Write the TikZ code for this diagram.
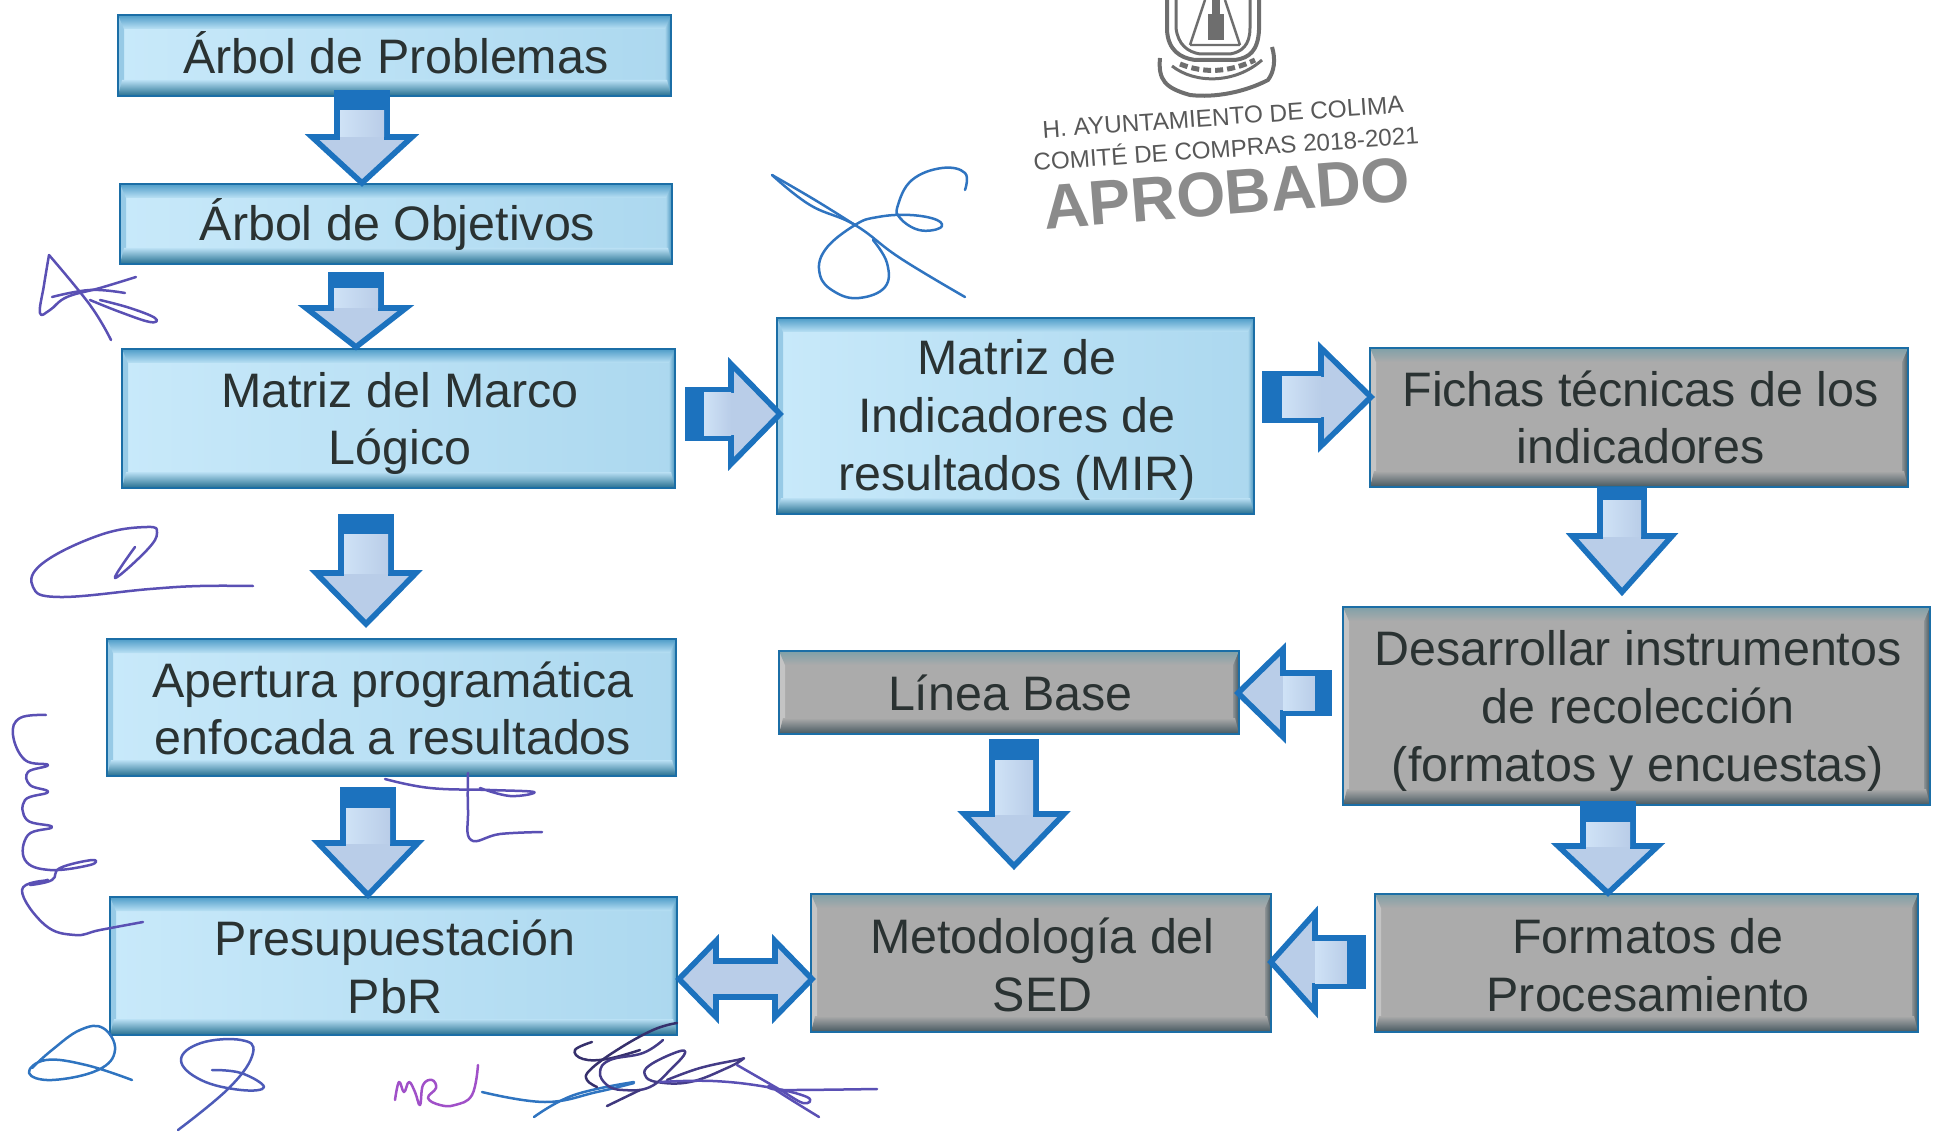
\documentclass[tikz,border=0pt]{standalone}
\usepackage{fontspec}
\setmainfont{Liberation Sans}
\usetikzlibrary{calc}
\definecolor{txt}{HTML}{2A3232}
\definecolor{edge}{HTML}{1B6EA6}
\definecolor{arrblue}{HTML}{1C72BE}
\definecolor{arrfill}{HTML}{B9CDE8}
\definecolor{arrlite}{HTML}{CFE2F6}
\definecolor{sigp}{HTML}{5A50B4}
\definecolor{sigb}{HTML}{2F74C0}
\definecolor{sigm}{HTML}{A050C8}
\definecolor{stampc}{HTML}{6E6E6E}
\definecolor{bluel}{HTML}{C8E9FA}
\definecolor{bluer}{HTML}{ACD8EF}
\definecolor{bluetop}{HTML}{4E9CC8}
\definecolor{bluehi}{HTML}{E4F5FD}
\definecolor{bluebot}{HTML}{256F90}
\definecolor{greyb}{HTML}{ABABAB}
\definecolor{greytop}{HTML}{7FA0A8}
\definecolor{greyhi}{HTML}{E2E2E2}
\definecolor{greyd}{HTML}{465860}
% top edge, highlight, body, bottom, left, right
\newcommand\bevels[6]{%
  \path (path picture bounding box.north west) coordinate (NW)
        (path picture bounding box.north east) coordinate (NE)
        (path picture bounding box.south west) coordinate (SW)
        (path picture bounding box.south east) coordinate (SE);
  \shade[left color=#5,right color=#3!0!#5] (NW) rectangle ($(SW)+(3pt,0)$);
  \shade[left color=#6!30!#3,right color=#6] ($(NE)+(-3pt,0)$) rectangle (SE);
  \shade[top color=#1,middle color=#2,bottom color=#3] (NW) -- (NE) -- ($(NE)+(-3pt,-7pt)$) -- ($(NW)+(3pt,-7pt)$) -- cycle;
  \shade[top color=#3,bottom color=#4] ($(SW)+(2pt,8pt)$) -- ($(SE)+(-2pt,8pt)$) -- (SE) -- (SW) -- cycle;
}
\tikzset{
  x=.5pt,y=.5pt,
  boxbase/.style={draw=edge,line width=1.3pt,inner sep=0pt},
  bluebox/.style={boxbase,left color=bluel,right color=bluer,
    path picture={\bevels{bluetop}{bluehi}{bluel!50!bluer}{bluebot}{bluel!60!bluetop}{bluetop!80!bluebot}}},
  greybox/.style={boxbase,fill=greyb,
    path picture={\bevels{greytop}{greyhi}{greyb}{greyd}{greyb!70!white}{greyd}}},
  boxtext/.style={inner sep=0pt,align=center,text=txt,font=\fontsize{24.2}{28.8}\selectfont},
  scrib/.style={line width=1.25pt,line cap=round,line join=round,smooth,tension=.7},
}
% [text shift], name, style, x1,y1,x2,y2, text
\newcommand\pbox[8][0]{%
  \pgfmathsetmacro\cx{(#4+#6)/2}\pgfmathsetmacro\cy{-(#5+#7)/2}%
  \pgfmathsetmacro\ww{(#6-#4)*.5}\pgfmathsetmacro\hh{(#7-#5)*.5}%
  \pgfmathsetmacro\ty{\cy-(#1)}\pgfmathsetmacro\tx{\cx+1.5}%
  \node[#3,minimum width=\ww pt,minimum height=\hh pt] (#2) at (\cx,\cy) {};
  \node[boxtext] (#2-text) at (\tx,\ty) {#8};}
% tail coord, tip coord, length, head length, shaft half, head half, dark length
\newcommand\blockarrow[7]{%
  \pgfmathanglebetweenpoints{\pgfpointanchor{#1}{center}}{\pgfpointanchor{#2}{center}}%
  \let\arrang\pgfmathresult
  \begin{scope}[shift={(#1)},rotate=\arrang]
    \pgfmathsetmacro\nk{#3-#4}
    \path[draw=arrblue,fill=arrfill,line width=2.8pt,miter limit=8]
      (2,-#5) -- (\nk,-#5) -- (\nk,-#6) -- (#3-1,0) -- (\nk,#6) -- (\nk,#5) -- (2,#5) -- cycle;
    \shade[left color=arrlite,right color=arrfill] (#7,-#5+3) rectangle (\nk,#5-3);
    \fill[arrblue] (2,-#5) rectangle (#7,#5);
  \end{scope}}
% left tip, length, head length, shaft half, head half
\newcommand\dblarrow[5]{%
  \begin{scope}[shift={(#1)}]
    \pgfmathsetmacro\nk{#2-#3}
    \path[draw=arrblue,fill=arrfill,line width=2.8pt,miter limit=8]
      (3,0) -- (#3,#5) -- (#3,#4) -- (\nk,#4) -- (\nk,#5) -- (#2-3,0) -- (\nk,-#5) -- (\nk,-#4) -- (#3,-#4) -- (#3,-#5) -- cycle;
  \end{scope}}
\begin{document}
\begin{tikzpicture}
\useasboundingbox (0,0) rectangle (1934,-1134);
% boxes
\pbox[-3]{prob}{bluebox}{118}{15}{671}{96}{Árbol de Problemas}
\pbox[1]{obj}{bluebox}{120}{184}{672}{264}{Árbol de Objetivos}
\pbox[5]{marco}{bluebox}{122}{349}{675}{488}{Matriz del Marco\\Lógico}
\pbox[4]{mir}{bluebox}{777}{318}{1254}{514}{Matriz de\\Indicadores de\\resultados (MIR)}
\pbox{fichas}{greybox}{1370}{348}{1908}{487}{Fichas técnicas de los\\indicadores}
\pbox[5]{desa}{greybox}{1343}{607}{1930}{805}{Desarrollar instrumentos\\de recolección\\(formatos y encuestas)}
\pbox{linea}{greybox}{779}{651}{1239}{734}{Línea Base}
\pbox[1]{aper}{bluebox}{107}{639}{676}{776}{Apertura programática\\enfocada a resultados}
\pbox[1]{pres}{bluebox}{110}{897}{677}{1035}{Presupuestación\\PbR}
\pbox[2]{meto}{greybox}{811}{894}{1271}{1032}{Metodología del\\SED}
\pbox[2]{form}{greybox}{1375}{894}{1918}{1032}{Formatos de\\Procesamiento}
% arrow ends
\coordinate (a1t) at (362,-91);   \coordinate (a1h) at (362,-184);
\coordinate (a2t) at (356,-273);  \coordinate (a2h) at (356,-348);
\coordinate (a3t) at (366,-515);  \coordinate (a3h) at (366,-625);
\coordinate (a4t) at (368,-788);  \coordinate (a4h) at (368,-896);
\coordinate (a5t) at (686,-414);  \coordinate (a5h) at (781,-414);
\coordinate (a6t) at (1263,-397); \coordinate (a6h) at (1372,-397);
\coordinate (a7t) at (1622,-488); \coordinate (a7h) at (1622,-593);
\coordinate (a8t) at (1331,-693); \coordinate (a8h) at (1237,-693);
\coordinate (a9t) at (1014,-740); \coordinate (a9h) at (1014,-867);
\coordinate (a10t) at (1608,-802);\coordinate (a10h) at (1608,-894);
\coordinate (a11t) at (1365,-962);\coordinate (a11h) at (1270,-962);
\coordinate (a12t) at (676,-979);
\blockarrow{a1t}{a1h}{93}{47}{25}{50}{19}
\blockarrow{a2t}{a2h}{75}{40}{25}{50}{15}
\blockarrow{a3t}{a3h}{110}{52}{25}{50}{19}
\blockarrow{a4t}{a4h}{108}{53}{25}{50}{20}
\blockarrow{a5t}{a5h}{95}{50}{24}{50}{18}
\blockarrow{a6t}{a6h}{109}{51}{23}{49}{19}
\blockarrow{a7t}{a7h}{105}{57}{22}{50}{12}
\blockarrow{a8t}{a8h}{94}{46}{20}{44}{16}
\blockarrow{a9t}{a9h}{127}{53}{22}{50}{20}
\blockarrow{a10t}{a10h}{92}{48}{25}{50}{20}
\blockarrow{a11t}{a11h}{95}{45}{24}{49}{18}
\dblarrow{a12t}{139}{40}{18}{38}
% signatures and stamp (y measured downwards)
\begin{scope}[yscale=-1]
\draw[sigb,scrib] plot coordinates {(772,175)(810,205)(855,225)(900,258)(965,297)};
\draw[sigb,scrib] plot coordinates {(772,175)(815,200)(855,225)};
\draw[sigb,scrib] plot coordinates {(965,190)(965,173)(942,168)(912,180)(898,205)(900,218)(919,230)(940,228)(937,220)(910,215)(878,217)(855,225)(825,250)(820,275)(835,292)(859,298)(885,287)(887,263)(873,240)};
\draw[sigp,scrib] plot coordinates {(111,340)(90,305)(49,255)};
\draw[sigp,scrib] plot coordinates {(49,255)(44,285)(40,313)(50,310)(67,297)(100,288)(136,277)};
\draw[sigp,scrib] plot coordinates {(52,297)(90,290)(125,293)};
\draw[sigp,scrib] plot coordinates {(90,300)(120,312)(150,322)(155,318)(130,308)(100,300)};
\draw[sigp,scrib] plot coordinates {(253,586)(200,586)(150,589)(60,597)(33,587)(43,563)(100,535)(147,527)(157,533)(147,550)(115,578)(135,547)};
\draw[sigp,scrib] plot coordinates {(46,715)(20,718)(13,735)(25,760)(48,765)(28,772)(30,785)(48,792)(25,800)(27,820)(52,827)(28,835)(25,860)(50,870)(90,865)(92,860)(60,868)(52,880)(30,885)(48,880)(22,890)(45,925)(75,935)(100,930)(143,922)};
\draw[sigp,scrib] plot coordinates {(385,779)(430,788)(490,790)(534,792)(510,796)(480,788)};
\draw[sigp,scrib] plot coordinates {(468,773)(468,810)(471,840)(500,834)(542,832)};
\draw[sigb,scrib] plot coordinates {(132,1080)(86,1065)(46,1060)(29,1073)(52,1080)(98,1070)(115,1050)(103,1028)(80,1030)(52,1050)(32,1068)};
\draw[sigp!70!sigb,scrib] plot coordinates {(178,1130)(230,1087)(253,1053)(241,1040)(201,1043)(181,1060)(201,1080)(241,1090)(264,1087)(241,1073)(212,1070)};
\draw[sigm,scrib] plot coordinates {(395,1100)(399,1082)(404,1092)(409,1082)(415,1092)(420,1105)(423,1085)(432,1080)(436,1088)(428,1098)(440,1105)(455,1105)(472,1095)(478,1065)};
\draw[sigb,scrib] plot coordinates {(482,1092)(545,1102)(597,1092)(634,1083)};
\draw[sigb,scrib] plot coordinates {(534,1117)(574,1095)(634,1082)};
\draw[sigp!60!black,scrib] plot coordinates {(677,1023)(653,1030)(617,1050)(590,1070)(587,1080)(597,1087)};
\draw[sigp!60!black,scrib] plot coordinates {(592,1042)(575,1050)(583,1059)(607,1059)(640,1050)};
\draw[sigp!75!black,scrib] plot coordinates {(663,1040)(643,1053)(610,1060)(600,1072)(607,1085)(623,1090)(650,1087)(673,1067)(685,1053)(677,1052)(650,1065)(645,1075)(657,1082)(690,1082)(727,1068)(743,1059)(737,1060)(700,1068)(667,1080)};
\draw[sigp,scrib] plot coordinates {(660,1082)(713,1081)(767,1087)(807,1097)(803,1103)(777,1088)(737,1065)};
\draw[sigp,scrib] plot coordinates {(819,1117)(773,1088)(783,1090)(877,1089)};
\draw[sigp!70!black,scrib] plot coordinates {(607,1106)(640,1090)};
% stamp shield
\draw[stampc,line width=2pt] (1167,0) -- (1167,30) .. controls (1168,50) and (1180,58) .. (1195,60) -- (1235,60) .. controls (1250,58) and (1258,50) .. (1259,30) -- (1259,0);
\draw[stampc,line width=1.5pt] (1176,0) -- (1176,28) .. controls (1178,45) and (1188,52) .. (1200,54) -- (1230,54) .. controls (1242,52) and (1250,45) .. (1250,28) -- (1250,0);
\draw[stampc,line width=1.2pt] (1190,45) -- (1205,0) (1240,45) -- (1225,0) (1190,45) -- (1240,45);
\fill[stampc] (1208,14) rectangle (1224,40);
\fill[stampc] (1212,0) rectangle (1220,14);
\draw[stampc,line width=2pt] (1160,58) .. controls (1158,80) and (1165,88) .. (1190,95) .. controls (1215,98) and (1245,92) .. (1268,80) .. controls (1274,72) and (1276,60) .. (1272,47);
\draw[stampc,line width=1.5pt] (1172,66) .. controls (1195,84) and (1235,84) .. (1262,60);
\draw[stampc,line width=2.5pt,dash pattern=on 4pt off 2pt] (1180,64) .. controls (1205,74) and (1230,72) .. (1255,60);
\end{scope}
\node[rotate=4,font=\fontsize{12.2}{13}\selectfont,inner sep=0pt,text=stampc!80!black] (st1) at (1223,-117) {H. AYUNTAMIENTO DE COLIMA};
\node[rotate=4,font=\fontsize{12.1}{13}\selectfont,inner sep=0pt,text=stampc!80!black] (st2) at (1226,-147) {COMITÉ DE COMPRAS 2018-2021};
\node[rotate=4.5,font=\bfseries\fontsize{31.5}{33}\selectfont,inner sep=0pt,text=stampc!80!white] (st3) at (1227,-193) {APROBADO};
\end{tikzpicture}
\end{document}
